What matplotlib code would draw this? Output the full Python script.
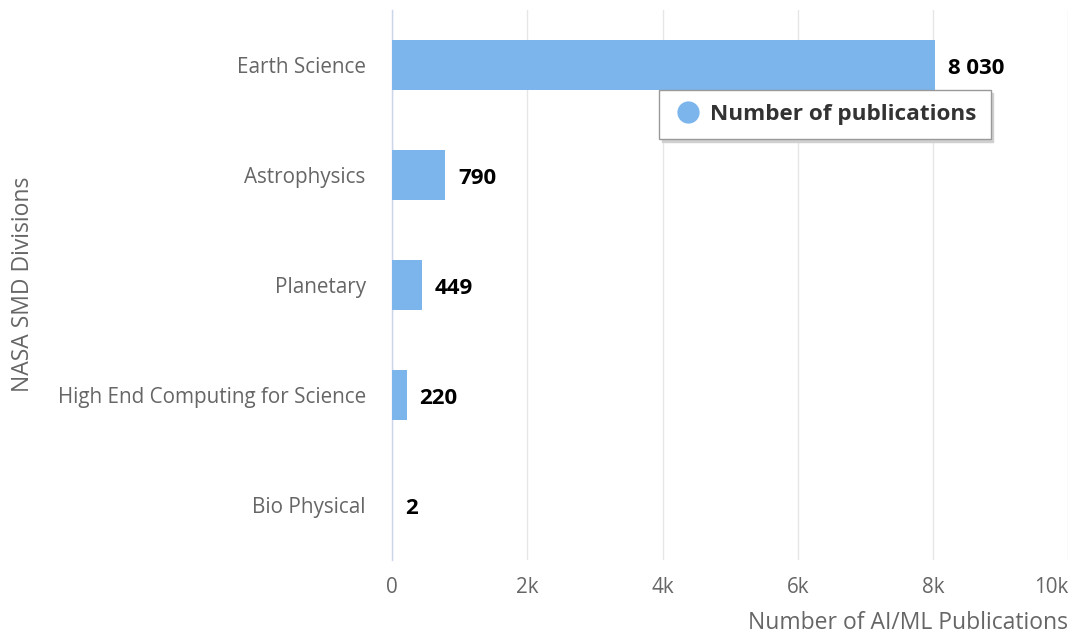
import matplotlib
matplotlib.use('Agg')
import matplotlib.pyplot as plt
from matplotlib.lines import Line2D

# data
divisions = ["Earth Science", "Astrophysics", "Planetary",
             "High End Computing for Science", "Bio Physical"]
publications = [8030, 790, 449, 220, 2]
xticks = [0, 2000, 4000, 6000, 8000, 10000]
xtick_labels = ["0", "2k", "4k", "6k", "8k", "10k"]

BAR = "#7cb5ec"
plt.rcParams['font.family'] = ['Open Sans', 'DejaVu Sans']

fig = plt.figure(figsize=(10.7, 6.35), dpi=100)
ax = fig.add_axes([0.3664, 0.1181, 0.632, 0.866])

ypos = list(range(len(divisions)))
ax.barh(ypos, publications, height=0.46, color=BAR, zorder=3)
ax.set_ylim(len(divisions) - 0.5, -0.5)
ax.set_xlim(0, 10000)

#labels at bar ends
for y, v in zip(ypos, publications):
    txt = "{:,}".format(v).replace(",", " ")
    ax.annotate(txt, (v, y), textcoords="offset points", xytext=(9, -2.5),
                ha="left", va="center", fontsize=16, fontweight="bold", color="#000000")

ax.set_yticks(ypos)
ax.set_yticklabels(divisions, fontsize=14.9, color="#666666")
ax.set_xticks(xticks)
ax.set_xticklabels(xtick_labels, fontsize=14.9, color="#666666")
ax.get_xticklabels()[-1].set_horizontalalignment("right")
ax.tick_params(axis="both", length=0)
ax.tick_params(axis="y", pad=19)
ax.tick_params(axis="x", pad=12)

ax.grid(axis="x", color="#e6e6e6", linewidth=1, zorder=0)
for s in ["top", "right", "bottom"]:
    ax.spines[s].set_visible(False)
ax.spines["left"].set_color("#ccd6eb")
ax.spines["left"].set_linewidth(1)

fig.text(0.998, 0.019, "Number of AI/ML Publications", ha="right", va="center",
         fontsize=16.5, color="#666666")
fig.text(0.0215, 0.552, "NASA SMD Divisions", rotation=90, ha="center", va="center",
         fontsize=16.5, color="#666666")

handle = Line2D([], [], marker="o", linestyle="none", markersize=15,
                markerfacecolor=BAR, markeredgecolor=BAR)
leg = fig.legend([handle], ["Number of publications"], loc="center",
                 bbox_to_anchor=(0.771, 0.8197), frameon=True,
                 shadow={"color": "#d0d0d0", "alpha": 1},
                 prop={"size": 16.2, "weight": "bold"}, handletextpad=0.35,
                 borderpad=0.62, handlelength=1.3, fancybox=False)
leg.get_frame().set_edgecolor("#999999")
leg.get_frame().set_linewidth(1)
for t in leg.get_texts():
    t.set_color("#333333")

fig.savefig("out.png", dpi=100)
